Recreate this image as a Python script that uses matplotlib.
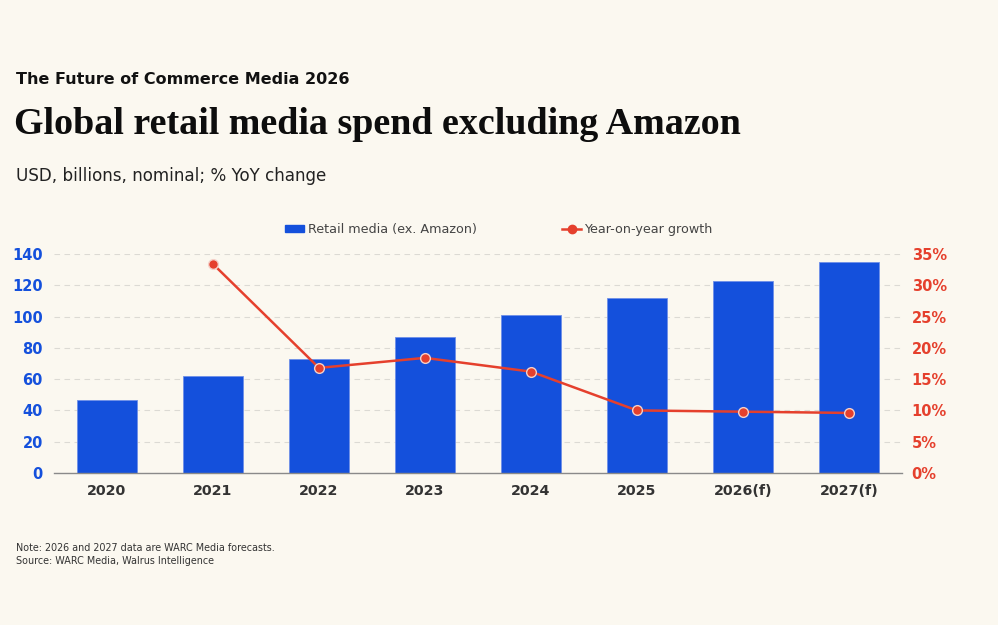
import matplotlib.pyplot as plt
from matplotlib.ticker import FuncFormatter
from matplotlib.lines import Line2D
from matplotlib.patches import Patch

years = ['2020', '2021', '2022', '2023', '2024', '2025', '2026(f)', '2027(f)']
spend = [46.5, 62.2, 73.1, 87.0, 101.0, 111.7, 122.8, 134.7]
growth_years = ['2021', '2022', '2023', '2024', '2025', '2026(f)', '2027(f)']
growth = [33.4, 16.8, 18.4, 16.2, 10.0, 9.8, 9.6]
left_ticks = [0, 20, 40, 60, 80, 100, 120, 140]
right_ticks = [0, 5, 10, 15, 20, 25, 30, 35]

bg = '#fbf8f0'
blue = '#1450dc'
red = '#e5402d'

fig = plt.figure(figsize=(9.98, 6.25), dpi=100, facecolor=bg)
ax = fig.add_axes([0.0541, 0.2432, 0.8497, 0.3504], facecolor=bg)
ax2 = ax.twinx()

x = list(range(len(years)))
ax.bar(x, spend, width=0.57, color=blue, edgecolor='#6f8fe8', linewidth=0.6, zorder=2)
ax.set_xlim(-0.5, len(years) - 0.5)
ax.set_ylim(0, 140)
ax.set_yticks(left_ticks)
ax.set_xticks(x)
ax.set_xticklabels(years, fontweight='bold', color='#333333', fontsize=10.3)
ax.tick_params(axis='x', length=0, pad=8)
ax.tick_params(axis='y', length=0, pad=8, labelcolor=blue, labelsize=10.5)
for lbl in ax.get_yticklabels():
    lbl.set_fontweight('bold')
ax.grid(axis='y', color='#dcdad4', linestyle=(0, (5, 4)), linewidth=0.8, zorder=0)
ax.set_axisbelow(True)
for s in ['top', 'left', 'right']:
    ax.spines[s].set_visible(False)
for s in ['top', 'left', 'right', 'bottom']:
    ax2.spines[s].set_visible(False)
ax.spines['bottom'].set_color('#8a8a8a')
ax.spines['bottom'].set_linewidth(1.0)

gx = [years.index(y) for y in growth_years]
ax2.plot(gx, growth, color=red, lw=1.8, marker='o', markersize=7,
         markerfacecolor=red, markeredgecolor='#f5d0c8', markeredgewidth=1.0,
         zorder=3, clip_on=False)
ax2.set_ylim(0, 35)
ax2.set_yticks(right_ticks)
ax2.yaxis.set_major_formatter(FuncFormatter(lambda v, p: f'{int(v)}%'))
ax2.tick_params(axis='y', length=0, pad=7, labelcolor=red, labelsize=10.5)
for lbl in ax2.get_yticklabels():
    lbl.set_fontweight('bold')

handles = [Patch(facecolor=blue, edgecolor=blue),
           Line2D([0], [0], color=red, lw=1.8, marker='o', markersize=6,
                  markerfacecolor=red, markeredgecolor=red)]
fig.legend(handles, ['Retail media (ex. Amazon)', 'Year-on-year growth'],
           loc='center', bbox_to_anchor=(0.5, 0.633), ncol=2, frameon=False,
           fontsize=9.2, labelcolor='#444444', columnspacing=6.7,
           handlelength=1.5, handletextpad=0.25, handleheight=0.5)

fig.text(0.016, 0.872, 'The Future of Commerce Media 2026', fontsize=11.5,
         fontweight='bold', color='#111111', va='center')
fig.text(0.014, 0.8, 'Global retail media spend excluding Amazon',
         fontsize=27.4, fontweight='bold', family='Liberation Serif',
         color='#0d0d0d', va='center')
fig.text(0.016, 0.718, 'USD, billions, nominal; % YoY change', fontsize=12.1,
         color='#222222', va='center')
fig.text(0.016, 0.123, 'Note: 2026 and 2027 data are WARC Media forecasts.',
         fontsize=6.9, color='#333333', va='center')
fig.text(0.016, 0.102, 'Source: WARC Media, Walrus Intelligence',
         fontsize=6.9, color='#333333', va='center')

fig.savefig('out.png', dpi=100, facecolor=bg)
